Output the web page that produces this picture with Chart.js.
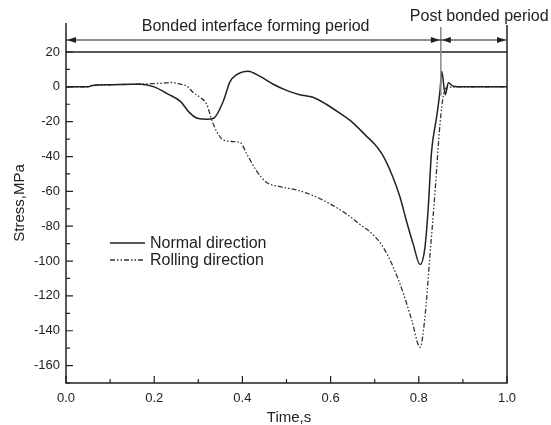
<!DOCTYPE html>
<html>
<head>
<meta charset="utf-8">
<script src="https://cdn.jsdelivr.net/npm/chart.js@4.4.1/dist/chart.umd.min.js"></script>
<style>
  html, body { margin: 0; padding: 0; background: #fff; }
  #wrap { width: 551px; height: 425px; }
</style>
</head>
<body>
<div id="wrap"><canvas id="stress-chart" width="551" height="425"></canvas></div>
<script>
// 시간 (s) / 응력 (MPa)
const normalTime = [0, 0.05, 0.06, 0.1, 0.15, 0.17, 0.2, 0.23, 0.26, 0.28, 0.3, 0.32, 0.335, 0.357, 0.372, 0.387, 0.413, 0.44, 0.47, 0.5, 0.53, 0.56, 0.59, 0.62, 0.65, 0.68, 0.7, 0.72, 0.74, 0.757, 0.772, 0.787, 0.803, 0.814, 0.821, 0.829, 0.84, 0.848, 0.852, 0.86, 0.867, 0.878, 0.9, 1.0];
const normalStress = [0, 0, 0.8, 1.2, 1.5, 1.5, 0, -4, -8.5, -14.8, -18.2, -18.6, -18, -8, 3, 7, 9, 6, 1.5, -2, -4.5, -6, -10, -15, -20.5, -28, -33, -40, -51, -63, -77, -90, -102, -92, -71, -37, -18, -2.5, 9, -4.5, 2.3, 0.4, 0, 0];

const rollingTime = [0, 0.05, 0.06, 0.1, 0.15, 0.19, 0.213, 0.24, 0.259, 0.274, 0.289, 0.304, 0.319, 0.33, 0.341, 0.357, 0.379, 0.395, 0.41, 0.432, 0.455, 0.485, 0.523, 0.561, 0.599, 0.636, 0.667, 0.697, 0.719, 0.742, 0.765, 0.784, 0.803, 0.814, 0.825, 0.837, 0.848, 0.856, 0.862, 0.9, 1.0];
const rollingStress = [0, 0, 0.8, 1.2, 1.5, 1.8, 2, 2.5, 1.5, 0.4, -3.4, -6, -10, -18.6, -25.3, -30.6, -31.4, -32, -38.6, -48.2, -54.9, -57.3, -59.2, -62.5, -67.2, -73, -79, -85, -92, -103.4, -118.6, -133.9, -149.5, -132, -97.7, -59.6, -21.5, -4.4, -0.6, 0, 0];

const seriesLabels = ['Normal direction', 'Rolling direction'];
const xTicks = [0, 0.2, 0.4, 0.6, 0.8, 1.0];
const yTicks = [20, 0, -20, -40, -60, -80, -100, -120, -140, -160];
const periodLabels = ['Bonded interface forming period', 'Post bonded period'];
const periodSplit = 0.85;

const FONT = '"Liberation Sans", Arial, sans-serif';
const INK = '#222';

function toPoints(ts, vs) {
  return ts.map((t, i) => ({ x: t, y: vs[i] }));
}

function arrowHead(ctx, x, y, dir) {
  ctx.beginPath();
  ctx.moveTo(x, y);
  ctx.lineTo(x - dir * 9, y - 3);
  ctx.lineTo(x - dir * 9, y + 3);
  ctx.closePath();
  ctx.fill();
}

// 축, 눈금, 주석, 범례
const decor = {
  id: 'decor',
  afterDraw(chart) {
    const { ctx, chartArea: a, scales: { x, y } } = chart;
    ctx.save();
    ctx.strokeStyle = INK;
    ctx.fillStyle = INK;
    ctx.lineWidth = 1.5;
    ctx.setLineDash([]);

    // frame
    ctx.strokeRect(a.left, a.top, a.right - a.left, a.bottom - a.top);
    ctx.beginPath();
    ctx.moveTo(a.left, a.top); ctx.lineTo(a.left, 23);
    ctx.moveTo(a.right, a.top); ctx.lineTo(a.right, 25);
    ctx.stroke();

    // inward ticks
    ctx.lineWidth = 1.2;
    ctx.beginPath();
    for (let i = 0; i <= 10; i++) {
      const px = x.getPixelForValue(i / 10);
      const len = i % 2 === 0 ? 7 : 4;
      ctx.moveTo(px, a.bottom); ctx.lineTo(px, a.bottom - len);
    }
    for (let v = -170; v <= 20; v += 10) {
      const py = y.getPixelForValue(v);
      const len = v % 20 === 0 ? 7 : 4;
      ctx.moveTo(a.left, py); ctx.lineTo(a.left + len, py);
    }
    ctx.stroke();

    // period marker
    const xs = x.getPixelForValue(periodSplit);
    ctx.strokeStyle = '#888';
    ctx.lineWidth = 1.5;
    ctx.beginPath();
    ctx.moveTo(xs, 27); ctx.lineTo(xs, y.getPixelForValue(-5));
    ctx.stroke();

    const ay = 40;
    ctx.strokeStyle = INK;
    ctx.lineWidth = 1;
    ctx.beginPath();
    ctx.moveTo(a.left, ay); ctx.lineTo(a.right, ay);
    ctx.stroke();
    arrowHead(ctx, a.left + 1, ay, -1);
    arrowHead(ctx, xs - 1, ay, 1);
    arrowHead(ctx, xs + 1, ay, -1);
    arrowHead(ctx, a.right - 1, ay, 1);

    ctx.font = '16px ' + FONT;
    ctx.textAlign = 'center';
    ctx.textBaseline = 'middle';
    ctx.fillText(periodLabels[0], x.getPixelForValue(0.43), 27);
    ctx.fillText(periodLabels[1], x.getPixelForValue(0.937), 17);

    // axis titles
    ctx.font = '15px ' + FONT;
    ctx.fillText('Time,s', 289, 418);
    ctx.save();
    ctx.translate(20, 203);
    ctx.rotate(-Math.PI / 2);
    ctx.fillText('Stress,MPa', 0, 0);
    ctx.restore();

    // legend
    ctx.font = '16px ' + FONT;
    ctx.textAlign = 'left';
    chart.data.datasets.forEach((ds, i) => {
      const ly = 243 + i * 17;
      ctx.strokeStyle = ds.borderColor;
      ctx.lineWidth = ds.borderWidth;
      ctx.setLineDash(ds.borderDash || []);
      ctx.beginPath();
      ctx.moveTo(110, ly); ctx.lineTo(145, ly);
      ctx.stroke();
      ctx.setLineDash([]);
      ctx.fillText(ds.label, 150, ly + 1);
    });
    ctx.restore();
  }
};

const stressChart = new Chart(document.getElementById('stress-chart'), {
  type: 'line',
  data: {
    datasets: [
      {
        label: seriesLabels[0],
        data: toPoints(normalTime, normalStress),
        borderColor: '#222',
        borderWidth: 1.5,
        pointRadius: 0,
        cubicInterpolationMode: 'monotone',
      },
      {
        label: seriesLabels[1],
        data: toPoints(rollingTime, rollingStress),
        borderColor: '#333',
        borderWidth: 1.3,
        borderDash: [5, 2, 1.5, 2, 1.5, 2],
        pointRadius: 0,
        cubicInterpolationMode: 'monotone',
      },
    ],
  },
  options: {
    responsive: false,
    animation: false,
    events: [],
    layout: { padding: { left: 0, right: 44, top: 52, bottom: 0 } },
    plugins: {
      legend: { display: false },
      tooltip: { enabled: false },
    },
    scales: {
      x: {
        type: 'linear',
        min: 0,
        max: 1,
        afterFit: (s) => { s.height = 42; },
        afterBuildTicks: (s) => { s.ticks = xTicks.map((v) => ({ value: v })); },
        grid: { display: false, drawTicks: false },
        border: { display: false },
        ticks: {
          padding: 8,
          color: INK,
          font: { family: FONT, size: 13 },
          maxRotation: 0,
          callback: (v) => Number(v).toFixed(1),
        },
      },
      y: {
        type: 'linear',
        min: -170,
        max: 20,
        afterFit: (s) => { s.width = 66; },
        afterBuildTicks: (s) => { s.ticks = yTicks.map((v) => ({ value: v })); },
        grid: { display: false, drawTicks: false },
        border: { display: false },
        ticks: {
          padding: 6,
          color: INK,
          font: { family: FONT, size: 13 },
        },
      },
    },
  },
  plugins: [decor],
});
</script>
</body>
</html>
